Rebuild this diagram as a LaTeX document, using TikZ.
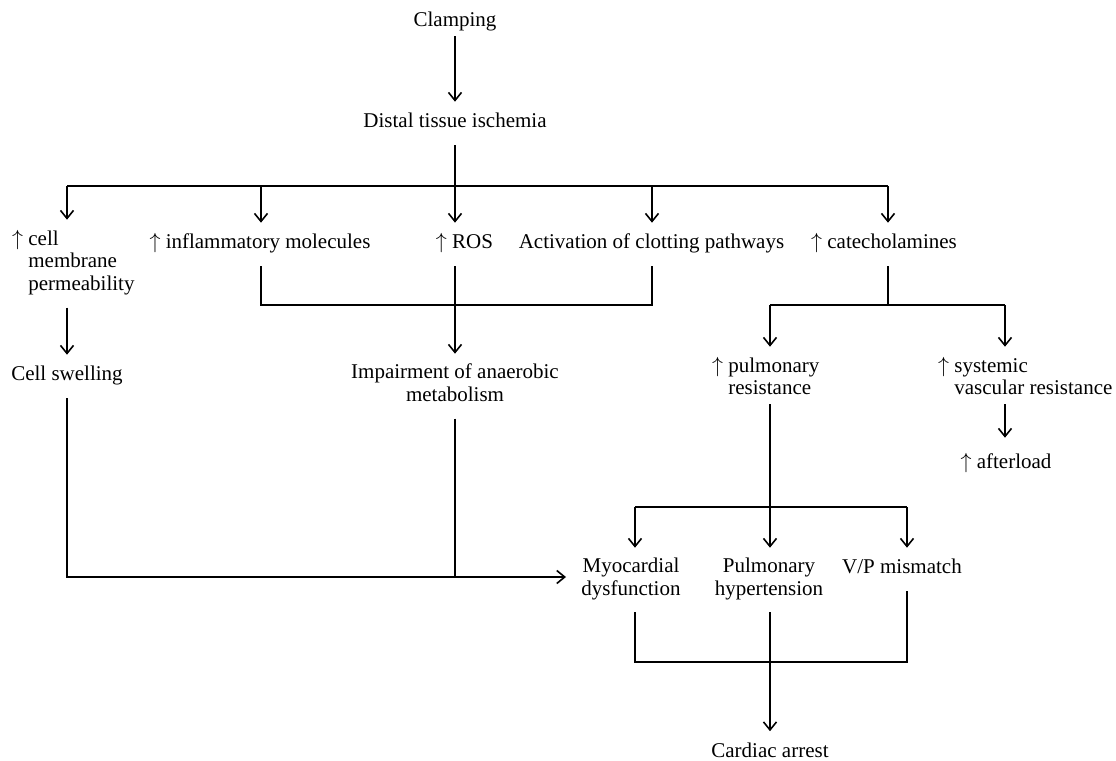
\documentclass[tikz,border=0pt]{standalone}
\usepackage{fontspec}
\setmainfont{Liberation Serif}
\usetikzlibrary{arrows.meta}
\newcommand\mystrut{\rule[-3.4pt]{0pt}{11.3pt}}
\newcommand\hup{\llap{$\uparrow$\ }}
\begin{document}
\begin{tikzpicture}[x=0.5pt,y=-0.5pt,
  lbl/.style={inner xsep=2pt, inner ysep=5pt, font=\fontsize{10.5}{11.3}\selectfont,
    execute at begin node=\mystrut, execute at end node=\mystrut},
  ln/.style={line width=0.8pt},
  arr/.style={ln, -{Straight Barb[length=4pt,width=6.5pt]}}]
\useasboundingbox (0,0) rectangle (1116,761);
% nodes
\node[lbl,anchor=north] (clamp) at (455,0.7) {Clamping};
\node[lbl,anchor=north] (distal) at (455,101.7) {Distal tissue ischemia};
\node[lbl,anchor=north west,align=left] (cell) at (24,219.7) {\hup cell\\membrane\\permeability};
\node[lbl,anchor=north] (infl) at (260,222.7) {$\uparrow$ inflammatory molecules};
\node[lbl,anchor=north] (ros) at (464.5,222.7) {$\uparrow$ ROS};
\node[lbl,anchor=north] (clot) at (651.5,222.7) {Activation of clotting pathways};
\node[lbl,anchor=north] (cat) at (884,222.7) {$\uparrow$ catecholamines};
\node[lbl,anchor=north] (swell) at (67,354.7) {Cell swelling};
\node[lbl,anchor=north,align=center] (imp) at (455,353.7) {Impairment of anaerobic\\metabolism};
\node[lbl,anchor=north west,align=left] (pulm) at (724,346.7) {\hup pulmonary\\resistance};
\node[lbl,anchor=north west,align=left] (sys) at (950,346.7) {\hup systemic\\vascular resistance};
\node[lbl,anchor=north] (after) at (1006,442.7) {$\uparrow$ afterload};
\node[lbl,anchor=north,align=center] (myo) at (631,547.7) {Myocardial\\dysfunction};
\node[lbl,anchor=north,align=center] (phyp) at (769,547.7) {Pulmonary\\hypertension};
\node[lbl,anchor=north] (vp) at (902,547.7) {V/P mismatch};
\node[lbl,anchor=north] (arrest) at (770,731.2) {Cardiac arrest};
% junction coordinates
\coordinate (b0) at (455,186);
\coordinate (t1) at (67,186);
\coordinate (t2) at (261,186);
\coordinate (t3) at (455,186);
\coordinate (t4) at (652,186);
\coordinate (t5) at (888,186);
\coordinate (m1) at (261,305);
\coordinate (m2) at (652,305);
\coordinate (k0) at (888,305);
\coordinate (kl) at (770,305);
\coordinate (kr) at (1005,305);
\coordinate (p1) at (635,507);
\coordinate (p3) at (907,507);
\coordinate (h1) at (67,577);
\coordinate (h3) at (455,577);
\coordinate (q1) at (635,662);
\coordinate (q2) at (770,662);
\coordinate (q3) at (907,662);
% connectors
\draw[arr, shorten <=-4pt] (clamp.south) -- (distal.north);
\draw[ln] (distal.south) -- (b0);
\draw[ln] (t1) -- (t5);
\draw[arr] (t1) -- (t1 |- cell.north);
\draw[arr] (t2) -- (t2 |- infl.north);
\draw[arr] (t3) -- (t3 |- ros.north);
\draw[arr] (t4) -- (t4 |- clot.north);
\draw[arr] (t5) -- (t5 |- cat.north);
\draw[ln] (m1 |- infl.south) -- (m1) -- (m2) -- (m2 |- clot.south);
\draw[arr] (t3 |- ros.south) -- (t3 |- imp.north);
\draw[arr] (t1 |- cell.south) -- (t1 |- swell.north);
\draw[ln] (k0 |- cat.south) -- (k0);
\draw[ln] (kl) -- (kr);
\draw[arr] (kl) -- (kl |- pulm.north);
\draw[arr] (kr) -- (kr |- sys.north);
\draw[arr, shorten <=-4pt, shorten >=2.5pt] (kr |- sys.south) -- (kr |- after.north);
\draw[arr, shorten <=-4pt] (kl |- pulm.south) -- (kl |- phyp.north);
\draw[ln] (p1) -- (p3);
\draw[arr] (p1) -- (p1 |- myo.north);
\draw[arr] (p3) -- (p3 |- vp.north);
\draw[arr, shorten >=5.5pt] (h1 |- swell.south) -- (h1) -- (h1 -| myo.west);
\draw[ln] (h3 |- imp.south) -- (h3);
\draw[ln] (q1 |- myo.south) -- (q1) -- (q3) -- (q3 |- vp.south);
\draw[arr] (q2 |- phyp.south) -- (q2 |- arrest.north);
\end{tikzpicture}
\end{document}
